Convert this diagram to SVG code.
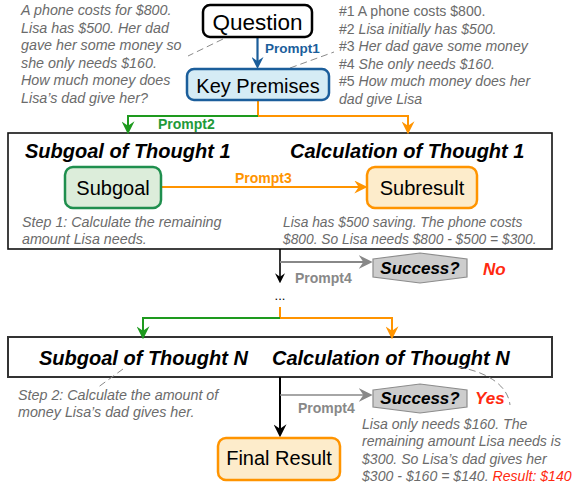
<svg xmlns="http://www.w3.org/2000/svg" width="576" height="489" viewBox="0 0 576 489">
<defs>
<style>
.t{font-family:"Liberation Sans",Arial,sans-serif}
.note{font-family:"Liberation Sans",Arial,sans-serif;font-size:13.8px;font-style:italic;fill:#6b6b6b}
.big{font-size:14.3px}
.mid{font-size:14.1px}
.up{font-style:normal}
.title{font-family:"Liberation Sans",Arial,sans-serif;font-size:20px;font-weight:bold;font-style:italic;fill:#000}
.node{font-family:"Liberation Sans",Arial,sans-serif;font-size:20px;fill:#000;text-anchor:middle}
.pl{font-family:"Liberation Sans",Arial,sans-serif;font-size:14px;font-weight:bold}
.dash{fill:none;stroke:#8a8a8a;stroke-width:1;stroke-dasharray:7,4}
.frame{fill:#fff;stroke:#111;stroke-width:1.6}
.hex{fill:#cdcdcd;stroke:#8c8c8c;stroke-width:1.2}
.succ{font-family:"Liberation Sans",Arial,sans-serif;font-size:17px;font-weight:bold;font-style:italic;fill:#000;text-anchor:middle}
.red{font-family:"Liberation Sans",Arial,sans-serif;font-size:17px;font-weight:bold;font-style:italic;fill:#ff2a10}
</style>
<marker id="aBlue" viewBox="0 0 12 12" markerWidth="12" markerHeight="12" markerUnits="userSpaceOnUse" refX="8" refY="6" orient="auto"><path d="M0,0 L12,6 L0,12 L4,6 z" fill="#1b5e9b"/></marker>
<marker id="aGreen" viewBox="0 0 12 12" markerWidth="13" markerHeight="13" markerUnits="userSpaceOnUse" refX="8" refY="6" orient="auto"><path d="M0,0 L12,6 L0,12 L4,6 z" fill="#1e9a1e"/></marker>
<marker id="aOrange" viewBox="0 0 12 12" markerWidth="13" markerHeight="13" markerUnits="userSpaceOnUse" refX="8" refY="6" orient="auto"><path d="M0,0 L12,6 L0,12 L4,6 z" fill="#ff9400"/></marker>
<marker id="aBlack" viewBox="0 0 12 12" markerWidth="13" markerHeight="13" markerUnits="userSpaceOnUse" refX="8" refY="6" orient="auto"><path d="M0,0 L12,6 L0,12 L4,6 z" fill="#000"/></marker>
<marker id="aBlackS" viewBox="0 0 12 12" markerWidth="10" markerHeight="10" markerUnits="userSpaceOnUse" refX="8" refY="6" orient="auto"><path d="M0,0 L12,6 L0,12 L4,6 z" fill="#000"/></marker>
<marker id="aGray" viewBox="0 0 12 12" markerWidth="14" markerHeight="14" markerUnits="userSpaceOnUse" refX="8" refY="6" orient="auto"><path d="M0,0 L12,6 L0,12 L4,6 z" fill="#888"/></marker>
</defs>

<!-- frames -->
<g id="thought1">
<rect class="frame" x="8" y="133" width="544" height="116"/>
<text class="title" x="25" y="158">Subgoal of Thought 1</text>
<text class="title" x="290" y="158">Calculation of Thought 1</text>
</g>
<g id="thoughtN">
<rect class="frame" x="8" y="337" width="544" height="40" style="stroke:#333;stroke-width:2"/>
<text class="title" x="39" y="365">Subgoal of Thought N</text>
<text class="title" x="272" y="365">Calculation of Thought N</text>
</g>

<!-- connectors -->
<g id="connectors" fill="none">
<path d="M257.5,37 V65" stroke="#1b5e9b" stroke-width="2.2" marker-end="url(#aBlue)"/>
<path d="M258,100 V116 H408 V130" stroke="#ff9400" stroke-width="2" marker-end="url(#aOrange)"/>
<path d="M258,116 H128 V130" stroke="#1e9a1e" stroke-width="2" marker-end="url(#aGreen)"/>
<path d="M161,187 H363" stroke="#ff9400" stroke-width="2" marker-end="url(#aOrange)"/>
<path d="M280,249 V280" stroke="#000" stroke-width="1.6" marker-end="url(#aBlackS)"/>
<path d="M280,262 H368" stroke="#888" stroke-width="2.2" marker-end="url(#aGray)"/>
<path d="M280,307 V318 H392 V335" stroke="#ff9400" stroke-width="2" marker-end="url(#aOrange)"/>
<path d="M280,318 H143 V335" stroke="#1e9a1e" stroke-width="2" marker-end="url(#aGreen)"/>
<path d="M280,377 V433" stroke="#000" stroke-width="2" marker-end="url(#aBlack)"/>
<path d="M280,395 H368" stroke="#888" stroke-width="1.6" marker-end="url(#aGray)"/>
<path class="dash" d="M223,39 L188,56"/>
<path class="dash" d="M290,68 L334,52"/>
<path class="dash" d="M123,369 L97,388"/>
<path class="dash" d="M458,367 C488,372 508,386 510,405"/>
<text class="pl" x="265" y="53" style="font-size:13.5px" fill="#1b5e9b">Prompt1</text>
<text class="pl" x="158" y="129" fill="#1f9a3a">Prompt2</text>
<text class="pl" x="235" y="183" fill="#ff9400">Prompt3</text>
<text class="pl" x="295" y="283" fill="#888">Prompt4</text>
<text class="pl" x="298" y="413" fill="#888">Prompt4</text>
<text class="t" x="280" y="300" font-size="13" text-anchor="middle" fill="#000">...</text>
</g>

<g id="question">
<rect x="203" y="5" width="109" height="32" rx="7" fill="#fff" stroke="#000" stroke-width="2.5"/>
<text class="node" x="257.5" y="30" style="font-size:22.5px">Question</text>
</g>
<g id="keypremises">
<rect x="187" y="69" width="142" height="31" rx="7" fill="#d5ecf5" stroke="#1b5e9b" stroke-width="2.5"/>
<text class="node" x="258" y="92.5">Key Premises</text>
</g>
<g id="subgoal">
<rect x="65" y="167" width="96" height="41" rx="8" fill="#dcedda" stroke="#1f8f4e" stroke-width="2.5"/>
<text class="node" x="113" y="195">Subgoal</text>
</g>
<g id="subresult">
<rect x="367" y="167" width="110" height="41" rx="8" fill="#fdeccb" stroke="#ff9400" stroke-width="2.5"/>
<text class="node" x="422" y="195">Subresult</text>
</g>
<g id="success1">
<polygon class="hex" points="373,259 420,253 467,259 467,277 420,283 373,277"/>
<text class="succ" x="420" y="274">Success?</text>
<text class="red" x="483" y="275">No</text>
</g>
<g id="success2">
<polygon class="hex" points="373,390 420,384 467,390 467,407 420,413 373,407"/>
<text class="succ" x="420" y="404">Success?</text>
<text class="red" x="475" y="404">Yes</text>
</g>
<g id="finalresult">
<rect x="218" y="438" width="122" height="42" rx="8" fill="#fdeccb" stroke="#ff9400" stroke-width="2.5"/>
<text class="node" x="279" y="465">Final Result</text>
</g>

<!-- notes -->
<g id="notes">
<text class="note big" x="21" y="15">A phone costs for $800.</text>
<text class="note big" x="21" y="32.5">Lisa has $500. Her dad</text>
<text class="note big" x="21" y="50">gave her some money so</text>
<text class="note big" x="21" y="67.5">she only needs $160.</text>
<text class="note big" x="21" y="85">How much money does</text>
<text class="note big" x="21" y="102.5">Lisa’s dad give her?</text>

<text class="note mid" x="339" y="16"><tspan class="up">#1 A phone costs $800.</tspan></text>
<text class="note mid" x="339" y="33.5"><tspan class="up">#2 </tspan>Lisa initially has $500.</text>
<text class="note mid" x="339" y="51"><tspan class="up">#3 </tspan>Her dad gave some money</text>
<text class="note mid" x="339" y="68.5"><tspan class="up">#4 </tspan>She only needs $160.</text>
<text class="note mid" x="339" y="86"><tspan class="up">#5 </tspan>How much money does her</text>
<text class="note mid" x="339" y="103.5">dad give Lisa</text>

<text class="note big" x="22" y="227">Step 1: Calculate the remaining</text>
<text class="note big" x="22" y="244">amount Lisa needs.</text>
<text class="note" x="283" y="227">Lisa has $500 saving. The phone costs</text>
<text class="note" x="283" y="244">$800. So Lisa needs $800 - $500 = $300.</text>

<text class="note big" x="18" y="400">Step 2: Calculate the amount of</text>
<text class="note big" x="18" y="417">money Lisa’s dad gives her.</text>

<text class="note mid" x="362" y="428.5">Lisa only needs $160. The</text>
<text class="note mid" x="362" y="446">remaining amount Lisa needs is</text>
<text class="note mid" x="362" y="463.5">$300. So Lisa’s dad gives her</text>
<text class="note mid" x="362" y="481">$300 - $160 = $140. <tspan fill="#ff2a10">Result: $140</tspan></text>
</g>
</svg>
